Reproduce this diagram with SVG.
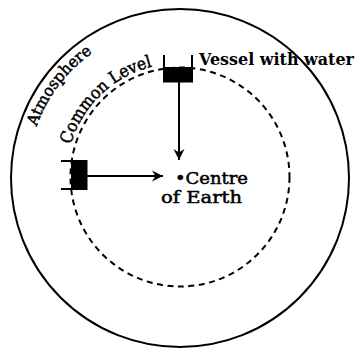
<svg xmlns="http://www.w3.org/2000/svg" width="358" height="351" viewBox="0 0 358 351">
<style>
.line{fill:none;stroke:#000;stroke-width:2}
.dash{fill:none;stroke:#000;stroke-width:2;stroke-dasharray:6 4.5}
.water{fill:#000}
.lbl{font-family:"DejaVu Serif","Liberation Serif",serif;fill:#000}
.thick{stroke:#000;stroke-width:0.5}
</style>
<defs>
<marker id="ah" markerUnits="userSpaceOnUse" markerWidth="12" markerHeight="12" refX="11" refY="6" orient="auto">
<path d="M0,0.5 L11,6 L0,11.5 L3.5,6 Z" fill="#000"/>
</marker>
<path id="atmPath" d="M36.3,127.5 A152,152 0 0 1 128,34.2"/>
<path id="levPath" d="M69.9,147.5 A114,114 0 0 1 170.1,63.4"/>
</defs>
<rect width="358" height="351" fill="#fff"/>
<g id="atmosphere">
<circle class="line" cx="180" cy="178" r="169"/>
<text class="lbl thick" font-size="16"><textPath href="#atmPath" startOffset="1" textLength="94" lengthAdjust="spacingAndGlyphs">Atmosphere</textPath></text>
</g>
<g id="common-level">
<circle class="dash" cx="180" cy="177" r="109.5"/>
<text class="lbl thick" font-size="17"><textPath href="#levPath" startOffset="3" textLength="118" lengthAdjust="spacingAndGlyphs">Common Level</textPath></text>
</g>
<g id="vessel-top">
<line class="line" x1="164" y1="55" x2="164" y2="68"/>
<line class="line" x1="192" y1="55" x2="192" y2="68"/>
<rect class="water" x="163" y="67" width="30" height="15.5"/>
<text class="lbl" x="199" y="65" font-size="16" font-weight="bold" textLength="155" lengthAdjust="spacingAndGlyphs">Vessel with water</text>
</g>
<g id="vessel-left">
<line class="line" x1="61" y1="161" x2="72" y2="161"/>
<line class="line" x1="61" y1="189" x2="72" y2="189"/>
<rect class="water" x="71" y="160" width="16.5" height="30"/>
</g>
<g id="centre">
<text class="lbl thick" x="175" y="183.5" font-size="16.5" textLength="73" lengthAdjust="spacingAndGlyphs">•Centre</text>
<text class="lbl thick" x="161" y="203" font-size="16.5" textLength="81" lengthAdjust="spacingAndGlyphs">of Earth</text>
</g>
<g id="connectors">
<line class="line" x1="179" y1="82" x2="179" y2="160" marker-end="url(#ah)"/>
<line class="line" x1="87" y1="176" x2="163" y2="176" marker-end="url(#ah)"/>
</g>
</svg>
